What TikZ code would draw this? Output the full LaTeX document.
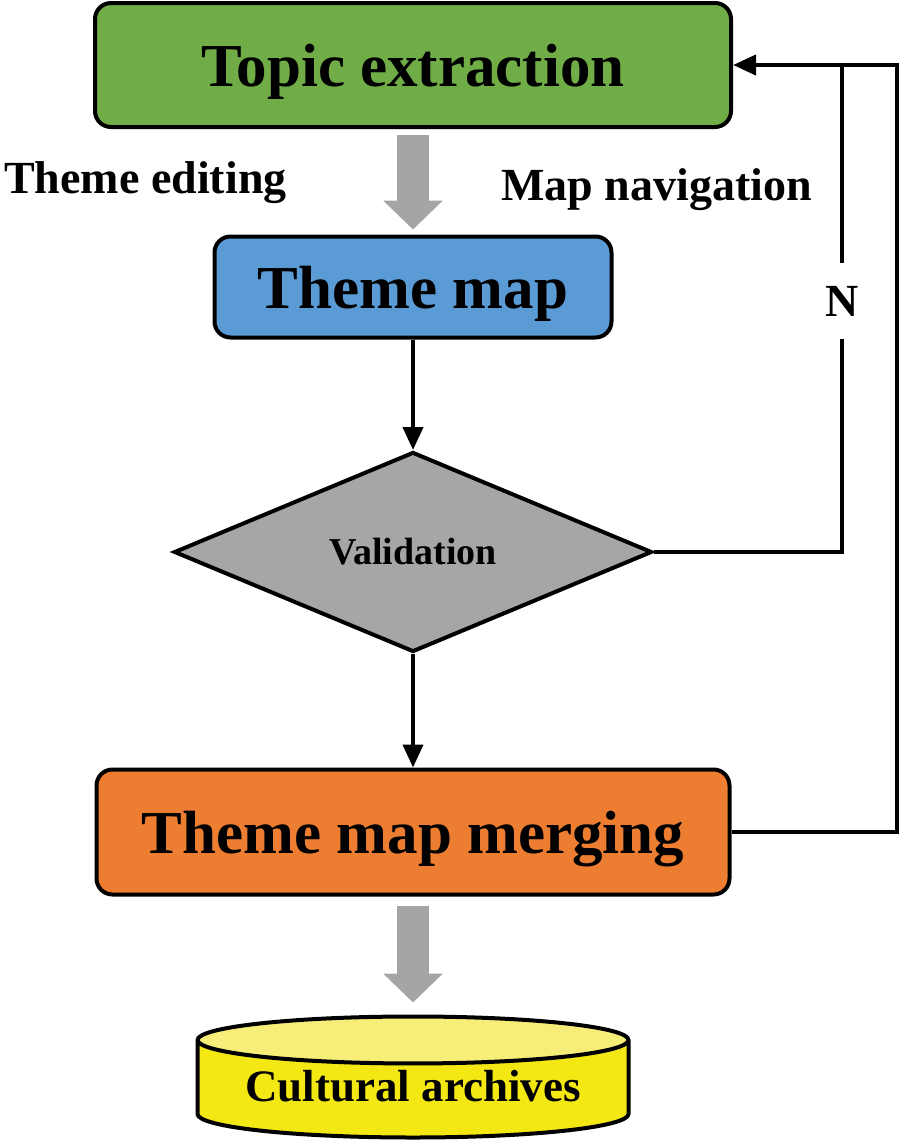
\documentclass[tikz,border=0pt]{standalone}
\usepackage{fontspec}
\setmainfont{Liberation Serif}
\usepackage{tikz}
\usetikzlibrary{positioning,arrows.meta,shapes.geometric}
\definecolor{topicgreen}{HTML}{70AD47}
\definecolor{mapblue}{HTML}{5B9BD5}
\definecolor{mergeorange}{HTML}{ED7D31}
\definecolor{validgray}{HTML}{A6A6A6}
\definecolor{arrowgray}{HTML}{A5A5A5}
\definecolor{archyellow}{HTML}{F4E814}
\definecolor{archtop}{HTML}{F6EE78}

\begin{document}
\begin{tikzpicture}[x=1pt,y=-1pt,
  stagebox/.style={draw, line width=4pt, rounded corners=16pt, inner sep=0pt,
    text depth=0pt, font=\fontsize{61}{61}\selectfont\bfseries},
  flow/.style={line width=4pt, -{Triangle[width=20pt,length=23pt]}},
  bigarrow/.style={line width=32pt, draw=arrowgray, -{Triangle[width=58pt,length=29pt]}},
  note/.style={inner sep=0pt, font=\fontsize{46}{46}\selectfont\bfseries}]
\useasboundingbox (0,0) rectangle (905,1146);

% Stages
\node[stagebox, fill=topicgreen, minimum width=636pt, minimum height=124pt] (topic) at (413,65) {Topic extraction};
\node[stagebox, fill=mapblue, minimum width=397pt, minimum height=101pt] (thememap) at (413,287) {Theme map};
\node[diamond, draw, line width=4pt, fill=validgray, minimum width=478pt, minimum height=200pt,
  inner sep=0pt, font=\fontsize{38}{38}\selectfont\bfseries] (valid) at (413,552) {Validation};
\node[stagebox, fill=mergeorange, minimum width=633pt, minimum height=125pt] (merging) at (413,832) {Theme map merging};
\node[cylinder, shape border rotate=90, draw, line width=4pt, aspect=0.14,
  minimum width=431pt, minimum height=121pt, inner sep=0pt, anchor=shape center,
  cylinder uses custom fill, cylinder body fill=archyellow, cylinder end fill=archtop,
  text height=24pt, text depth=0pt, font=\fontsize{45}{45}\selectfont\bfseries] (archive) at (413,1077) {Cultural archives};

% Side labels
\node[note, anchor=base west] (editing) at (4,193) {Theme editing};
\node[note, anchor=base west] (navigation) at (501,200) {Map navigation};
\node[note, minimum height=76pt] (nmark) at (842,301) {N};

% Main flow
\draw[bigarrow, shorten <=6pt, shorten >=5pt] (topic.south) -- (thememap.north);
\draw[flow] (thememap.south) -- (valid.north);
\draw[flow] (valid.south) -- (merging.north);
\draw[bigarrow, shorten <=9pt, shorten >=12pt] (merging.south) -- (archive.north);

% Feedback loops
\coordinate (corner) at (897,65);
\draw[flow] (merging.east) -| (corner) -- (topic.east);
\draw[line width=4pt] (valid.east) -| (nmark.south);
\draw[line width=4pt] (nmark.north) -- (nmark.north |- topic.east);
\end{tikzpicture}
\end{document}
